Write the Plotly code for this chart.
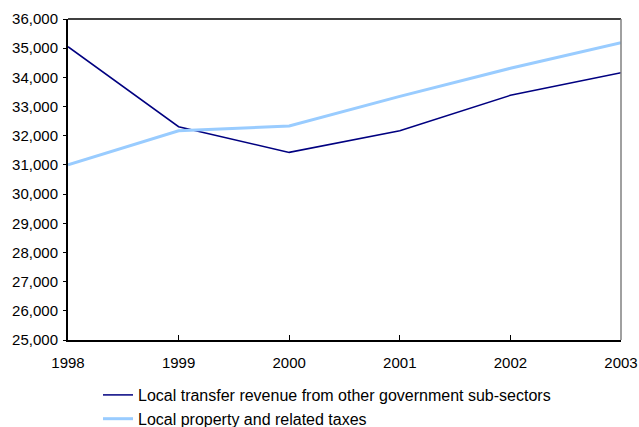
import plotly.graph_objects as go

years = [1998, 1999, 2000, 2001, 2002, 2003]
transfer_revenue = [35050, 32310, 31430, 32170, 33385, 34160]
property_taxes = [31000, 32170, 32335, 33350, 34310, 35190]

y_ticks = list(range(25000, 36001, 1000))
y_labels = [f"{v:,}" for v in y_ticks]

fig = go.Figure()
fig.add_trace(go.Scatter(
    x=years, y=transfer_revenue, mode="lines",
    name="Local transfer revenue from other government sub-sectors",
    line=dict(color="#000080", width=1.5),
))
fig.add_trace(go.Scatter(
    x=years, y=property_taxes, mode="lines",
    name="Local property and related taxes",
    line=dict(color="#99CCFF", width=3),
))

fig.update_layout(
    width=639, height=427,
    margin=dict(l=68, r=18, t=19, b=87, autoexpand=False),
    paper_bgcolor="white", plot_bgcolor="white",
    font=dict(family="Liberation Sans, Arial, sans-serif", size=15, color="black"),
    showlegend=True,
    legend=dict(
        orientation="v", xref="container", yref="container",
        x=98 / 639, y=1 - 378 / 427, xanchor="left", yanchor="top",
        font=dict(size=16), bgcolor="rgba(0,0,0,0)",
    ),
    xaxis=dict(
        range=[1998, 2003], tickvals=years, ticktext=[str(y) for y in years],
        showgrid=False, zeroline=False, showline=True, linecolor="black", linewidth=2,
        ticks="inside", ticklen=5, tickcolor="black", tickfont=dict(size=15),
        ticklabelstandoff=8,
    ),
    yaxis=dict(
        range=[25000, 36000], tickvals=y_ticks, ticktext=y_labels,
        showgrid=False, zeroline=False, showline=True, linecolor="black", linewidth=2,
        ticks="outside", ticklen=3, tickcolor="black", tickfont=dict(size=15),
        ticklabelstandoff=2,
    ),
)
# Box lines on top and right of the plot area
fig.add_shape(type="line", xref="paper", yref="paper", x0=0, x1=1, y0=1, y1=1,
              line=dict(color="black", width=1.5))
fig.add_shape(type="line", xref="paper", yref="paper", x0=1, x1=1, y0=0, y1=1,
              line=dict(color="#808080", width=1.5))

fig.write_html("out.html")
